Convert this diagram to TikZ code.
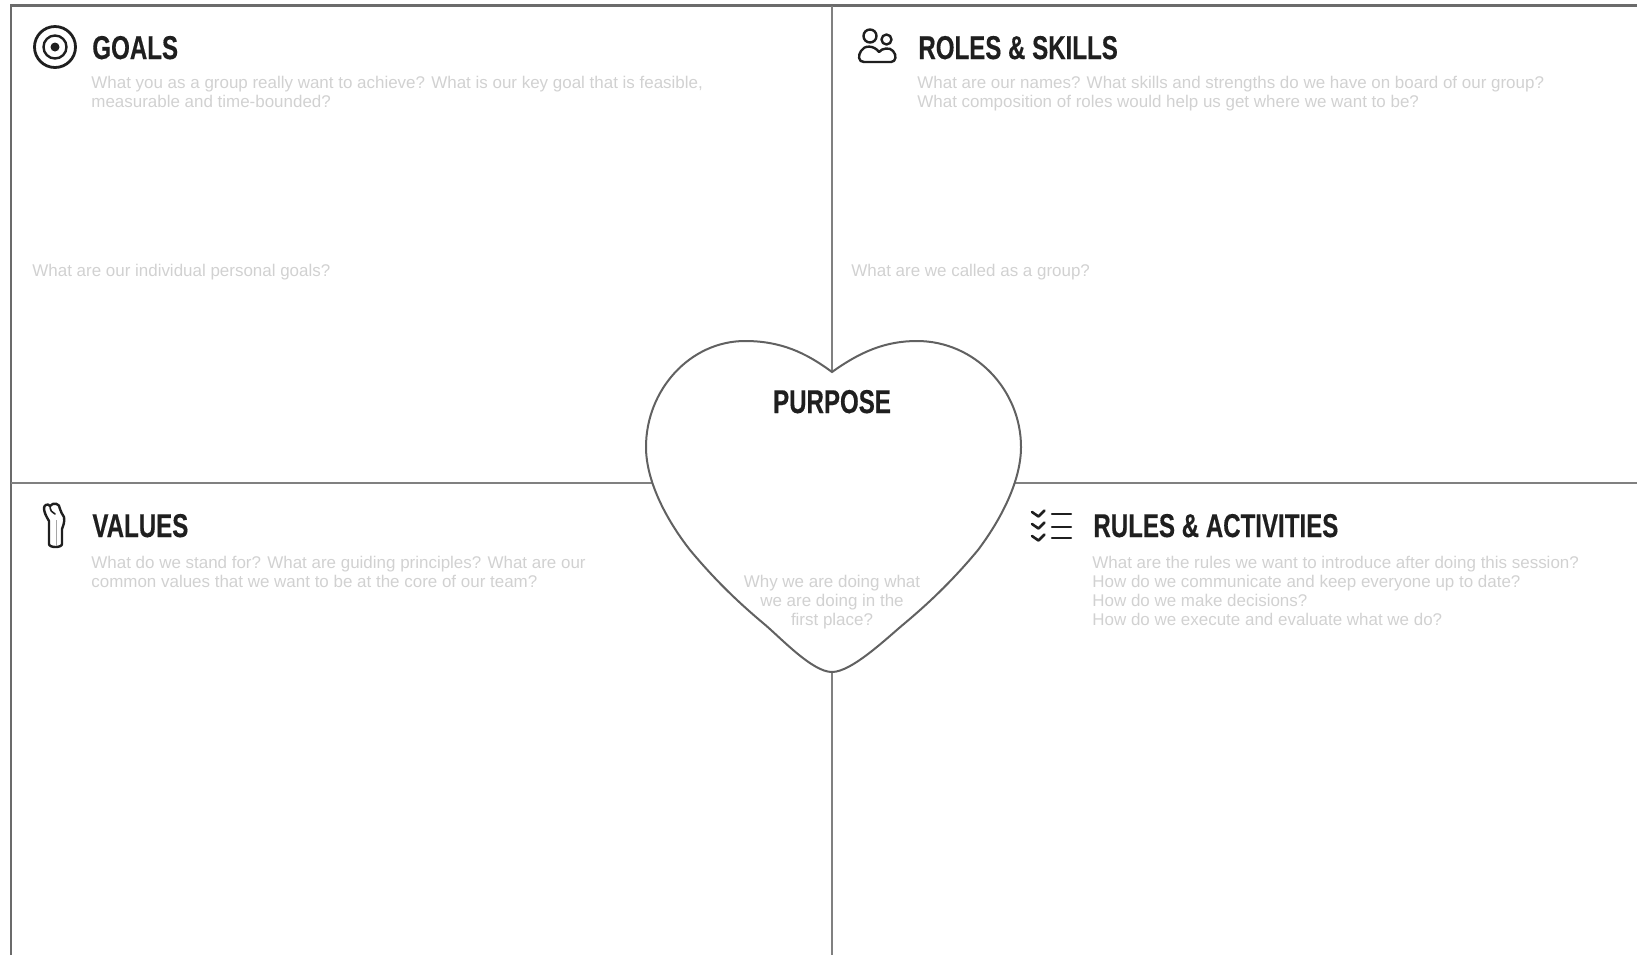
\documentclass[tikz,border=0pt]{standalone}
\usepackage{fontspec}
\setmainfont{Liberation Sans}
\newfontfamily\headfont[UprightFont=* Bold, FakeStretch=0.73, FakeBold=0.35]{Liberation Sans}
\usetikzlibrary{positioning}

\begin{document}
\begin{tikzpicture}[
    x=0.5pt, y=-0.5pt,
    heading/.style={anchor=base west, inner sep=0pt, font=\headfont\fontsize{16.5}{18}\selectfont, text=black!88},
    hint/.style={anchor=base west, inner sep=0pt, align=left, font=\fontsize{8.48}{9.5}\selectfont, text=black!18},
    frameline/.style={draw=black!58, line width=1.25pt},
    gridline/.style={draw=black!50, line width=0.55pt},
    heartline/.style={draw=black!62, line width=1pt, fill=white},
    icon/.style={draw=black!88, line width=1.2pt, line cap=round, line join=round}
]
    \useasboundingbox (0,0) rectangle (1637,955);

    % Outer frame and quadrant lines
    \coordinate (topleft) at (11,5.5);
    \coordinate (topright) at (1637,5.5);
    \coordinate (bottomleft) at (11,955);
    \coordinate (midtop) at (832,5.5);
    \coordinate (midbottom) at (832,955);
    \coordinate (midleft) at (11,483);
    \coordinate (midright) at (1637,483);
    \draw[frameline] (bottomleft) -- (topleft) -- (topright);
    \draw[gridline] (midtop) -- (midbottom);
    \draw[gridline] (midleft) -- (midright);

    % Heart in the middle
    \draw[heartline] (832,372) .. controls (805,352) and (780,341) .. (745,341)
        .. controls (690,341) and (646,390) .. (646,447)
        .. controls (646,480) and (665,518) .. (690,550)
        .. controls (715,580) and (738,602) .. (763,623)
        .. controls (780,637) and (812,672) .. (832,672)
        .. controls (852,672) and (888,637) .. (905,623)
        .. controls (930,602) and (953,580) .. (978,550)
        .. controls (1002,518) and (1021,480) .. (1021,447)
        .. controls (1021,390) and (975,341) .. (917,341)
        .. controls (885,341) and (860,352) .. (832,372) -- cycle;

    % Goals (top left)
    \draw[icon, line width=1.4pt] (55,47) circle (20.5);
    \draw[icon, line width=1.2pt] (55,47) circle (11.5);
    \fill[black!88] (55,47) circle (4.5);
    \node[heading] (goals) at (92,59) {GOALS};
    \node[hint] (goalshint) at (91,107) {What you as a group really want to achieve? What is our key goal that is feasible,\\measurable and time-bounded?};
    \node[hint] (personal) at (32,276) {What are our individual personal goals?};

    % Roles and skills (top right)
    \draw[icon] (870,36) circle (6.5);
    \draw[icon] (886.5,39.5) circle (5);
    \draw[icon] (864,62) .. controls (858,62) and (858,55) .. (861,51)
        .. controls (864,45) and (874,45) .. (879,52)
        .. controls (882,48) and (890,47) .. (893,51)
        .. controls (897,55) and (896,62) .. (891,62) -- cycle;
    \node[heading] (roles) at (918,59) {ROLES \& SKILLS};
    \node[hint] (roleshint) at (917,107) {What are our names? What skills and strengths do we have on board of our group?\\What composition of roles would help us get where we want to be?};
    \node[hint] (groupname) at (851,276) {What are we called as a group?};

    % Values (bottom left)
    \draw[icon] (49,521) .. controls (46,516) and (44,512) .. (44,508)
        .. controls (44,505) and (48,503) .. (50,506)
        .. controls (53,502) and (60,503) .. (60,509)
        .. controls (60,512) and (63,514) .. (64,517)
        .. controls (65,522) and (63,526) .. (62,529)
        -- (62,544) .. controls (62,548) and (49,548) .. (49,544) -- cycle;
    \draw[icon, line width=0.8pt] (50,506) .. controls (50,510) and (52,513) .. (55,514);
    \draw[black!35, line width=0.4pt] (56,520) -- (56,546);
    \node[heading] (values) at (92,537) {VALUES};
    \node[hint] (valueshint) at (91,587) {What do we stand for? What are guiding principles? What are our\\common values that we want to be at the core of our team?};

    % Rules and activities (bottom right)
    \foreach \rowy in {0,12,24} {
        \draw[icon, line width=1.3pt] (1032,512+\rowy) -- (1038.5,516.5+\rowy) -- (1044.5,510.5+\rowy);
    }
    \foreach \rowy in {514,527,538} {
        \draw[icon, line width=1.2pt] (1052,\rowy) -- (1071,\rowy);
    }
    \node[heading] (rules) at (1093,537) {RULES \& ACTIVITIES};
    \node[hint] (ruleshint) at (1092,625) {What are the rules we want to introduce after doing this session?\\How do we communicate and keep everyone up to date?\\How do we make decisions?\\How do we execute and evaluate what we do?};

    % Purpose (inside the heart)
    \node[heading, anchor=base] (purpose) at (832,413) {PURPOSE};
    \node[hint, anchor=base, align=center] (purposehint) at (832,625) {Why we are doing what\\we are doing in the\\first place?};
\end{tikzpicture}
\end{document}
